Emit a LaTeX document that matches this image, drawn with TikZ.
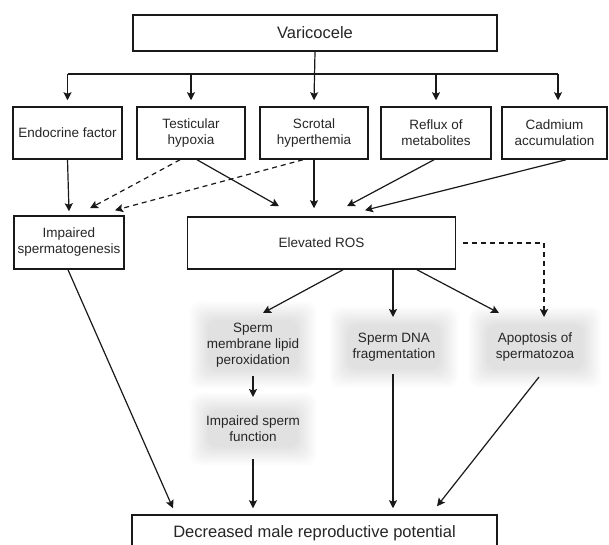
\documentclass[tikz,border=0pt]{standalone}
\usepackage{fontspec}
\setmainfont{Liberation Sans}
\usetikzlibrary{arrows.meta}
\pgfdeclarelayer{bg}
\pgfdeclarelayer{paper}
\pgfsetlayers{paper,bg,main}
\newcommand\myhaze[1]{%
  \begin{pgfonlayer}{bg}
    \foreach \i in {-4,-2,...,14}{%
      \fill[black!50, opacity=0.022, rounded corners=10pt]
        ([xshift=-\i pt,yshift=-\i pt]#1.south west) rectangle ([xshift=\i pt,yshift=\i pt]#1.north east);}
  \end{pgfonlayer}}
\begin{document}
\begin{tikzpicture}[x=1pt,y=-1pt,
  box/.style={draw=black!90, line width=1.5pt, inner sep=0pt, align=center,
    font=\fontsize{13.5}{16}\selectfont, text=black!85},
  bigbox/.style={box, font=\fontsize{16.5}{20}\selectfont},
  soft/.style={inner sep=0pt, align=center, font=\fontsize{13.5}{16}\selectfont, text=black!85},
  arr/.style={-{Stealth[length=8pt,width=8pt,inset=1.5pt]}, line width=1.2pt, draw=black!90},
  darr/.style={arr, dash pattern=on 5pt off 4pt},
  plain/.style={line width=1.2pt, draw=black!90}]
\useasboundingbox (0,0) rectangle (609,544);
\clip (0,0) rectangle (609,544);
\begin{pgfonlayer}{paper}
\fill[white] (0,0) rectangle (609,544);
\end{pgfonlayer}

% top
\node[bigbox, minimum width=364pt, minimum height=36pt] (var) at (315,33) {Varicocele};

% row of causes
\node[box, minimum width=109pt, minimum height=52pt] (endo) at (67.5,133) {Endocrine factor};
\node[box, minimum width=108pt, minimum height=52pt] (hyp) at (191,133) {Testicular\\hypoxia};
\node[box, minimum width=108pt, minimum height=52pt] (therm) at (314,133) {Scrotal\\hyperthemia};
\node[box, minimum width=110pt, minimum height=52pt] (reflux) at (436,133) {Reflux of\\metabolites};
\node[box, minimum width=105pt, minimum height=52pt] (cad) at (554.5,133) {Cadmium\\accumulation};

% middle
\node[box, minimum width=110pt, minimum height=53pt] (imp) at (69,242.5) {Impaired\\spermatogenesis};
\node[box, minimum width=268pt, minimum height=52pt] (ros) at (321.5,243) {Elevated ROS};

% lower soft nodes
\node[soft, minimum width=98pt, minimum height=58pt] (lipid) at (253,345) {Sperm\\membrane lipid\\peroxidation};
\node[soft, minimum width=100pt, minimum height=52pt] (dna) at (394,347) {Sperm DNA\\fragmentation};
\node[soft, minimum width=104pt, minimum height=52pt] (apop) at (535,347) {Apoptosis of\\spermatozoa};
\node[soft, minimum width=98pt, minimum height=44pt] (func) at (253,429) {Impaired sperm\\function};
\myhaze{lipid}
\myhaze{dna}
\myhaze{apop}
\myhaze{func}

% bottom
\node[bigbox, minimum width=365pt, minimum height=36pt] (dec) at (314.5,533) {Decreased male reproductive potential};

% bus from Varicocele
\coordinate (bus) at (314,74);
\draw[plain] (bus -| endo.north) -- ([xshift=3.5pt]bus -| cad.north);
\draw[arr] (var.south) -- ([yshift=6pt]therm.north);
\draw[arr] (bus -| endo.north) -- ([yshift=6pt]endo.north);
\draw[arr] (bus -| hyp.north) -- ([yshift=6pt]hyp.north);
\draw[arr] (bus -| reflux.north) -- ([yshift=6pt]reflux.north);
\draw[arr] ([xshift=3.5pt]bus -| cad.north) -- ([xshift=3.5pt,yshift=6pt]cad.north);

% to impaired spermatogenesis
\draw[arr] (endo.south) -- ([yshift=4pt]imp.north);
\draw[darr] ([xshift=-11pt]hyp.south) -- ([xshift=21pt,yshift=7pt]imp.north);
\draw[darr] ([xshift=-11pt]therm.south) -- ([xshift=46pt,yshift=5pt]imp.north);

% to elevated ROS
\draw[arr] ([xshift=6pt]hyp.south) -- ([xshift=-42.5pt,yshift=10pt]ros.north);
\draw[arr] (therm.south) -- ([xshift=-7.5pt,yshift=8pt]ros.north);
\draw[arr] ([xshift=-2pt]reflux.south) -- ([xshift=25.5pt,yshift=10pt]ros.north);
\draw[arr] ([xshift=11.5pt]cad.south) -- ([xshift=43.5pt,yshift=6pt]ros.north);

% from ROS
\draw[arr] ([xshift=21.5pt]ros.south) -- ([xshift=10pt,yshift=32pt]lipid.center);
\draw[arr] ([xshift=71.5pt]ros.south) -- ([xshift=-1pt,yshift=30pt]dna.center);
\draw[arr] ([xshift=95.5pt]ros.south) -- ([xshift=-36pt,yshift=34pt]apop.center);
\draw[darr] ([xshift=7pt]ros.east) -| ([xshift=9pt,yshift=30pt]apop.center);

% lower chain
\draw[arr] ([yshift=-31pt]lipid.center) -- ([yshift=32pt]func.center);
\draw[arr] ([yshift=-30pt]func.center) -- ([xshift=-61.5pt,yshift=6pt]dec.north);
\draw[arr] ([xshift=-1pt,yshift=-27pt]dna.center) -- ([xshift=78.5pt,yshift=6pt]dec.north);
\draw[arr] ([xshift=4pt,yshift=-30pt]apop.center) -- ([xshift=122.5pt,yshift=8pt]dec.north);
\draw[arr] ([xshift=-1pt]imp.south) -- ([xshift=-141.5pt,yshift=6pt]dec.north);
\end{tikzpicture}
\end{document}
